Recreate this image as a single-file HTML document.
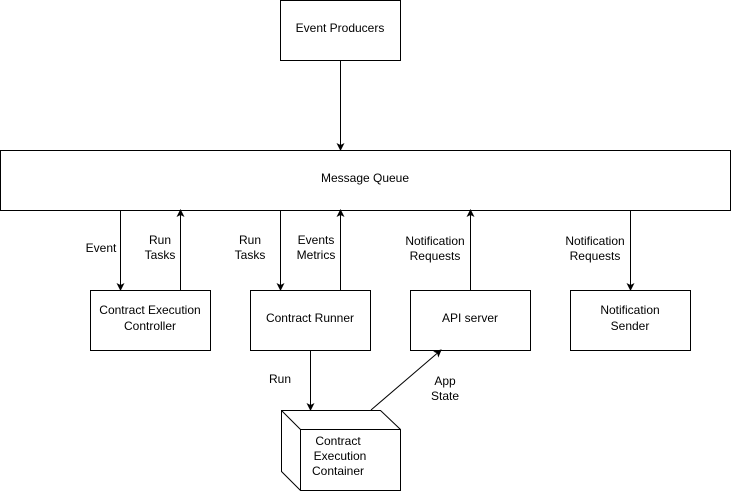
<!DOCTYPE html>
<html><head><style>
body{margin:0;background:#fff;}
text{font-family:"Liberation Sans",sans-serif;font-size:12px;fill:#000;}
</style></head><body>
<svg width="732" height="494" xmlns="http://www.w3.org/2000/svg">
<defs><marker id="a" markerWidth="8" markerHeight="8" refX="7" refY="4" orient="auto" markerUnits="userSpaceOnUse"><path d="M0,0 L8,4 L0,8 L2,4 z" fill="#000"/></marker></defs>
<g fill="#fff" stroke="#000" stroke-width="1">
<rect x="280.5" y="0.5" width="120" height="60"/>
<rect x="0.5" y="150.5" width="730" height="60"/>
<rect x="90.5" y="290.5" width="120" height="60"/>
<rect x="250.5" y="290.5" width="120" height="60"/>
<rect x="410.5" y="290.5" width="120" height="60"/>
<rect x="570.5" y="290.5" width="120" height="60"/>
<path d="M281.5,410.5 L380.5,410.5 L400.5,429.5 L400.5,490.5 L300.5,490.5 L281.5,471.5 Z"/>
<path d="M281.5,410.5 L300.5,429.5 L400.5,429.5 M300.5,429.5 L300.5,490.5" fill="none"/>
</g>
<g stroke="#000" stroke-width="1" fill="none" marker-end="url(#a)">
<line x1="340.5" y1="60" x2="340.5" y2="150"/>
<line x1="120.5" y1="210" x2="120.5" y2="290"/>
<line x1="180.5" y1="290" x2="180.5" y2="210"/>
<line x1="280.5" y1="210" x2="280.5" y2="290"/>
<line x1="340.5" y1="290" x2="340.5" y2="210"/>
<line x1="470.5" y1="290" x2="470.5" y2="210"/>
<line x1="630.5" y1="210" x2="630.5" y2="290"/>
<line x1="310.5" y1="350" x2="310.5" y2="410"/>
<line x1="371" y1="410" x2="441" y2="350"/>
</g>
<g text-anchor="middle">
<text x="340" y="32">Event Producers</text>
<text x="365" y="182">Message Queue</text>
<text x="150" y="314">Contract Execution</text><text x="150" y="330">Controller</text>
<text x="310" y="322">Contract Runner</text>
<text x="470" y="322">API server</text>
<text x="630" y="314">Notification</text><text x="630" y="330">Sender</text>
<text x="101" y="252">Event</text>
<text x="160" y="244">Run</text><text x="160" y="259">Tasks</text>
<text x="250" y="244">Run</text><text x="250" y="259">Tasks</text>
<text x="316" y="244">Events</text><text x="316" y="259">Metrics</text>
<text x="435" y="245">Notification</text><text x="435" y="260">Requests</text>
<text x="595" y="245">Notification</text><text x="595" y="260">Requests</text>
<text x="280" y="383">Run</text>
<text x="445" y="385">App</text><text x="445" y="400">State</text>
<text x="338" y="445">Contract</text><text x="340" y="460">Execution</text><text x="338" y="475">Container</text>
</g>
</svg>
</body></html>
